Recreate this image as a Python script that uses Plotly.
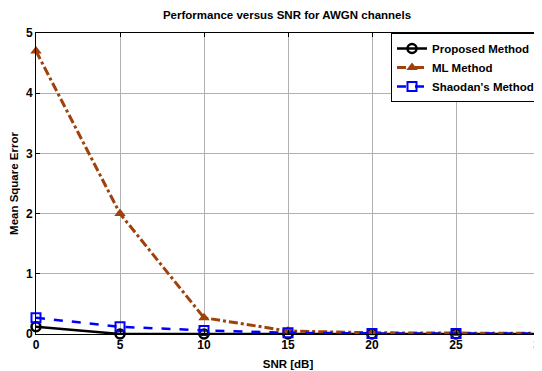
import plotly.graph_objects as go

snr = [0, 5, 10, 15, 20, 25, 30]
proposed = [0.12, 0.0, 0.0, 0.0, 0.0, 0.0, 0.0]
ml = [4.7, 2.0, 0.27, 0.05, 0.02, 0.01, 0.01]
shaodan = [0.27, 0.12, 0.06, 0.02, 0.01, 0.01, 0.01]

x_ticks = [0, 5, 10, 15, 20, 25, 30]
y_ticks = [0, 1, 2, 3, 4, 5]

FONT = "Liberation Sans, Arial, sans-serif"
BROWN = "#A0400A"

fig = go.Figure()
fig.add_trace(go.Scatter(
    x=snr, y=proposed, name="<b>Proposed Method</b>", mode="lines+markers",
    line=dict(color="black", width=2.5),
    marker=dict(symbol="circle-open", size=9, color="black", line=dict(width=2.5)),
    cliponaxis=False))
fig.add_trace(go.Scatter(
    x=snr, y=ml, name="<b>ML Method</b>", mode="lines+markers",
    line=dict(color=BROWN, width=3, dash="dashdot"),
    marker=dict(symbol="triangle-up", size=10, color=BROWN),
    cliponaxis=False))
fig.add_trace(go.Scatter(
    x=snr, y=shaodan, name="<b>Shaodan's Method</b>", mode="lines+markers",
    line=dict(color="#0000FF", width=2.5, dash="dash"),
    marker=dict(symbol="square-open", size=9, color="#0000FF", line=dict(width=2)),
    cliponaxis=False))

axis_common = dict(
    showgrid=True, gridcolor="#b0b0b0", gridwidth=1,
    showline=True, linecolor="black", linewidth=1, mirror="ticks",
    ticks="inside", ticklen=4, tickcolor="black", zeroline=False,
    automargin=False, tickfont=dict(size=12, family=FONT),
    ticklabeloverflow="allow",
)

# page body adds an 8px margin, so the figure is sized to the visible area
W, H = 534, 363
fig.update_layout(
    width=W, height=H,
    margin=dict(l=28, r=2, t=25, b=37),
    plot_bgcolor="white", paper_bgcolor="white",
    font=dict(family=FONT, size=11, color="black"),
    title=dict(text="<b>Performance versus SNR for AWGN channels</b>",
               x=279 / W, xanchor="center", y=1 - 7 / H, yanchor="middle", yref="container",
               font=dict(size=11.5, family=FONT)),
    xaxis=dict(range=[0, 30], tickvals=x_ticks, ticktext=[f"<b>{v}</b>" for v in x_ticks],
               title=dict(text="<b>SNR [dB]</b>", standoff=8, font=dict(size=11.5)),
               **axis_common),
    yaxis=dict(range=[0, 5], tickvals=y_ticks, ticktext=[f"<b>{v}</b>" for v in y_ticks],
               title=dict(text="<b>Mean Square Error</b>", standoff=10, font=dict(size=11.5)),
               **axis_common),
    legend=dict(x=1, xanchor="right", y=1, yanchor="top",
                bgcolor="white", bordercolor="black", borderwidth=1,
                font=dict(size=11.5, family=FONT), tracegroupgap=0,
                itemwidth=30),
    showlegend=True,
)

fig.write_html("out.html")
